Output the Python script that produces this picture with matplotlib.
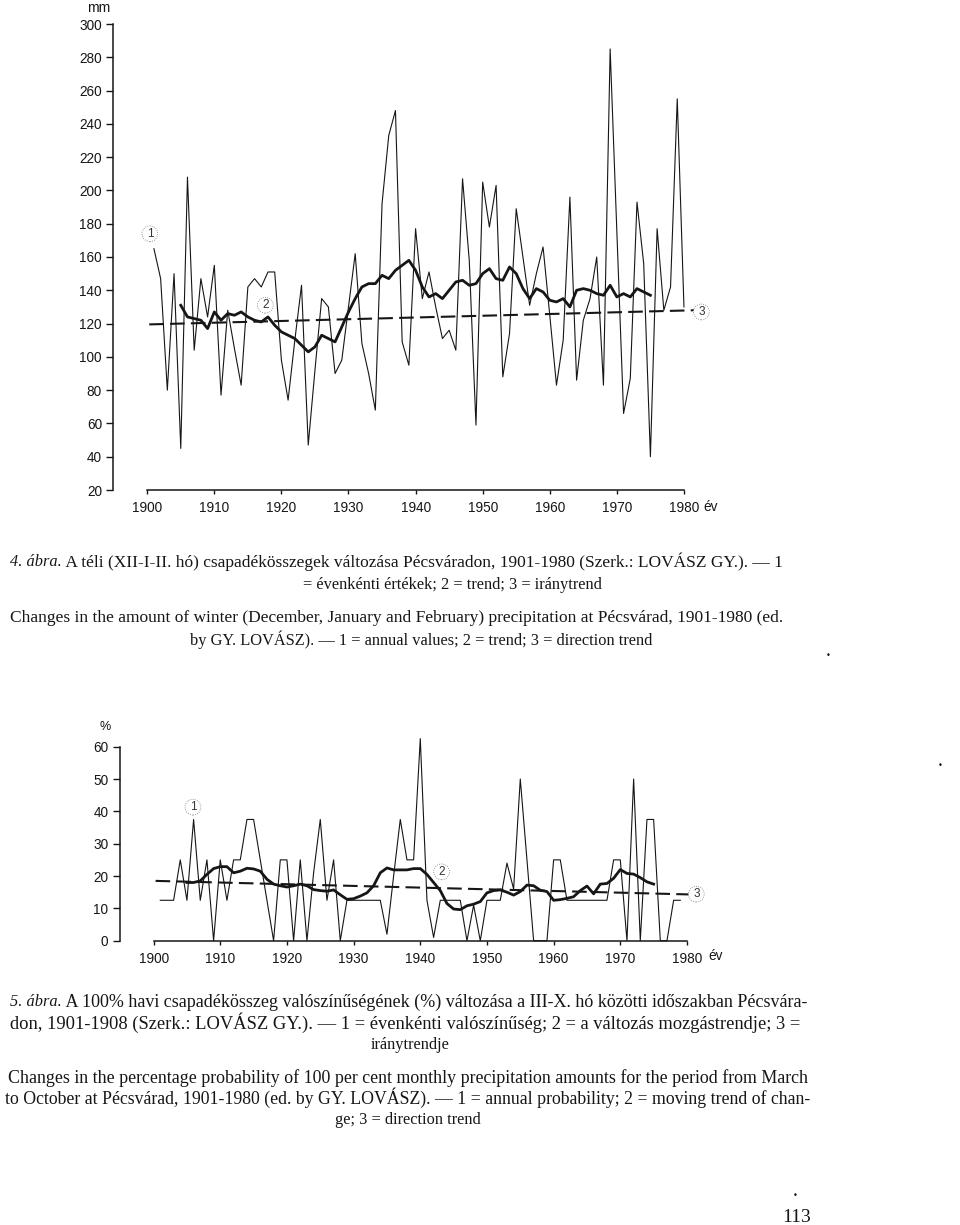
import matplotlib
matplotlib.use('Agg')
import matplotlib.pyplot as plt

W, H = 960, 1225
ink = '#161616'
sans = ['Liberation Sans Narrow', 'Liberation Sans', 'DejaVu Sans']
serif = 'Liberation Serif'

# --- 4. abra: winter precipitation, mm ---
years = list(range(1901, 1981))
winter_mm = [165, 147, 80, 150, 45, 208, 104, 147, 124, 155,
             77, 128, 105, 83, 142, 147, 142, 151, 151, 98,
             74, 110, 143, 47, 92, 135, 130, 90, 98, 130,
             162, 108, 90, 68, 192, 233, 248, 109, 95, 177,
             135, 151, 130, 111, 116, 104, 207, 158, 59, 205,
             178, 203, 88, 114, 189, 160, 131, 150, 166, 125,
             83, 110, 196, 86, 122, 135, 160, 83, 285, 175,
             66, 87, 193, 156, 40, 177, 128, 142, 255, 130]
trend_years = list(range(1905, 1976))
winter_trend = [131, 124, 123, 122, 117, 127, 122, 126, 125, 127,
                124, 122, 121, 124, 119, 115, 113, 111, 107, 103,
                106, 113, 111, 109, 118, 127, 135, 142, 144, 144,
                149, 147, 152, 155, 158, 152, 142, 136, 138, 135,
                140, 145, 146, 143, 144, 150, 153, 147, 146, 154,
                150, 141, 135, 141, 139, 134, 133, 135, 130, 140,
                141, 140, 138, 137, 143, 136, 138, 136, 141, 139, 137]
winter_dir_x = [1900.3, 1981.5]
winter_dir_y = [119.5, 128]

# --- 5. abra: probability of 100% monthly precipitation, % ---
prob_years = list(range(1901, 1980))
prob = [12.5, 12.5, 12.5, 25, 12.5, 37.5, 12.5, 25, 0, 25,
        12.5, 25, 25, 37.5, 37.5, 25, 12.5, 0, 25, 25,
        0, 25, 0, 21, 37.5, 12.5, 25, 0, 12.5, 12.5,
        12.5, 12.5, 12.5, 12.5, 2, 20, 37.5, 25, 25, 62.5,
        12.5, 1, 12.5, 12.5, 12.5, 12.5, 0, 11, 0, 12.5,
        12.5, 12.5, 24, 16, 50, 25, 0, 0, 0, 25,
        25, 12.5, 12.5, 12.5, 12.5, 12.5, 12.5, 12.5, 25, 25,
        0, 50, 0, 37.5, 37.5, 0, 0, 12.5, 12.5]
prob_trend = [18, 18, 18.5, 20.5, 22.3, 22.9, 22.9, 21, 21.5, 22.4,
              22.2, 21.5, 19, 17.5, 17, 16.6, 17, 17.5, 17, 15.8,
              15.5, 15.3, 15.7, 14.2, 12.8, 13, 13.8, 14.8, 17, 21,
              22.5, 21.9, 21.9, 21.9, 22.3, 22.3, 20.5, 18, 15.5, 11.5,
              9.8, 9.6, 10.8, 11.3, 12.1, 14.8, 15.5, 15.7, 15, 14.1,
              15.2, 17.2, 17, 15.6, 15.2, 12.5, 12.7, 13.1, 13.6, 15.5,
              16.9, 14.5, 17.5, 17.7, 19.3, 22, 20.8, 20.6, 19.5, 18.2, 17.5]
prob_dir_x = [1900.3, 1980.5]
prob_dir_y = [18.5, 14.3]

xticks = list(range(1900, 1990, 10))

fig = plt.figure(figsize=(W / 100, H / 100), dpi=100)


def style_axes(ax, ylo, yhi, ystep):
    for s in ['top', 'right']:
        ax.spines[s].set_visible(False)
    ax.spines['left'].set_bounds(ylo, yhi)
    ax.spines['bottom'].set_bounds(1900, 1980)
    for s in ['left', 'bottom']:
        ax.spines[s].set_linewidth(1.1)
        ax.spines[s].set_color(ink)
    ax.set_xlim(1894.9, 1985)
    ax.set_ylim(ylo, yhi)
    ax.set_xticks(xticks)
    ax.set_yticks(range(ylo, yhi + 1, ystep))
    ax.tick_params(axis='y', direction='out', length=5, width=1, pad=3, colors=ink, labelsize=9.8)
    ax.tick_params(axis='x', direction='out', length=3, width=1, pad=5, colors=ink, labelsize=9.8)
    for lab in ax.get_xticklabels() + ax.get_yticklabels():
        lab.set_family(sans)
    ax.patch.set_alpha(0)


def circled(ax, x, y, s):
    ax.text(x, y, s, fontsize=8.5, family=sans, color='#333333', ha='center', va='center',
            clip_on=False,
            bbox=dict(boxstyle='circle,pad=0.16', fc='white', ec='#777777', lw=0.6, ls=':'))


# top chart
ax1 = fig.add_axes([113 / W, (H - 490) / H, (717.5 - 113) / W, 466 / H])
style_axes(ax1, 20, 300, 20)
ax1.plot(years, winter_mm, color=ink, lw=0.8, clip_on=False)
ax1.plot(trend_years, winter_trend, color=ink, lw=2.0, clip_on=False)
ax1.plot(winter_dir_x, winter_dir_y, color=ink, lw=1.5, ls=(0, (7, 3)), clip_on=False)
circled(ax1, 1900.4, 174, '1')
circled(ax1, 1917.6, 131, '2')
circled(ax1, 1982.6, 127, '3')
fig.text(87 / W, 1 - 8 / H, 'mm', fontsize=10, family=sans, color=ink, va='center')
fig.text(703 / W, 1 - 507 / H, 'év', fontsize=9.8, family=sans, color=ink, va='center')

# bottom chart
ax2 = fig.add_axes([119.6 / W, (H - 940.7) / H, (720.3 - 119.6) / W, 194 / H])
style_axes(ax2, 0, 60, 10)
ax2.plot(prob_years, prob, color=ink, lw=0.8, clip_on=False)
ax2.plot(trend_years, prob_trend, color=ink, lw=2.0, clip_on=False)
ax2.plot(prob_dir_x, prob_dir_y, color=ink, lw=1.5, ls=(0, (7, 3)), clip_on=False)
circled(ax2, 1905.9, 41.3, '1')
circled(ax2, 1943.2, 21.3, '2')
circled(ax2, 1981.4, 14.4, '3')
fig.text(100 / W, 1 - 727 / H, '%', fontsize=9, family=sans, color=ink, va='center')
fig.text(708 / W, 1 - 956 / H, 'év', fontsize=9.8, family=sans, color=ink, va='center')

# captions
r = fig.canvas.get_renderer()


def put(txt, y, left=None, right=None, center=None, size=11.8, style='normal'):
    t = fig.text(0, 1 - y / H, txt, fontsize=size, family=serif, style=style,
                 color=ink, va='center')
    w = t.get_window_extent(renderer=r).width
    if left is not None and right is not None:
        t.set_fontsize(size * (right - left) / w)
    if left is not None:
        t.set_x(left / W)
    else:
        t.set_x(center / W)
        t.set_ha('center')
    return t, w


_, pw = put('4. ábra.', 562, left=10, style='italic')
put(' A téli (XII-I-II. hó) csapadékösszegek változása Pécsváradon, 1901-1980 (Szerk.: LOVÁSZ GY.). — 1',
    562, left=10 + pw, right=782)
put('= évenkénti értékek; 2 = trend; 3 = iránytrend', 585, center=452)
put('Changes in the amount of winter (December, January and February) precipitation at Pécsvárad, 1901-1980 (ed.',
    618, left=10, right=782)
put('by GY. LOVÁSZ). — 1 = annual values; 2 = trend; 3 = direction trend', 640, center=421)

_, pw = put('5. ábra.', 1002, left=10, style='italic')
put(' A 100% havi csapadékösszeg valószínűségének (%) változása a III-X. hó közötti időszakban Pécsvára-',
    1002, left=10 + pw, right=810)
put('don, 1901-1908 (Szerk.: LOVÁSZ GY.). — 1 = évenkénti valószínűség; 2 = a változás mozgástrendje; 3 =',
    1023, left=10, right=800)
put('iránytrendje', 1045, center=410)
put('Changes in the percentage probability of 100 per cent monthly precipitation amounts for the period from March',
    1078, left=8, right=808)
put('to October at Pécsvárad, 1901-1980 (ed. by GY. LOVÁSZ). — 1 = annual probability; 2 = moving trend of chan-',
    1098, left=5, right=808)
put('ge; 3 = direction trend', 1120, center=408)

fig.text(797 / W, 1 - 1217 / H, '113', fontsize=14, family=serif, color=ink, ha='center', va='center')
for px, py in [(828, 655), (940, 765), (795, 1195)]:
    fig.text(px / W, 1 - py / H, '•', fontsize=6, family='DejaVu Sans', color=ink, ha='center', va='center')

fig.savefig('out.png', dpi=100, facecolor='white')
